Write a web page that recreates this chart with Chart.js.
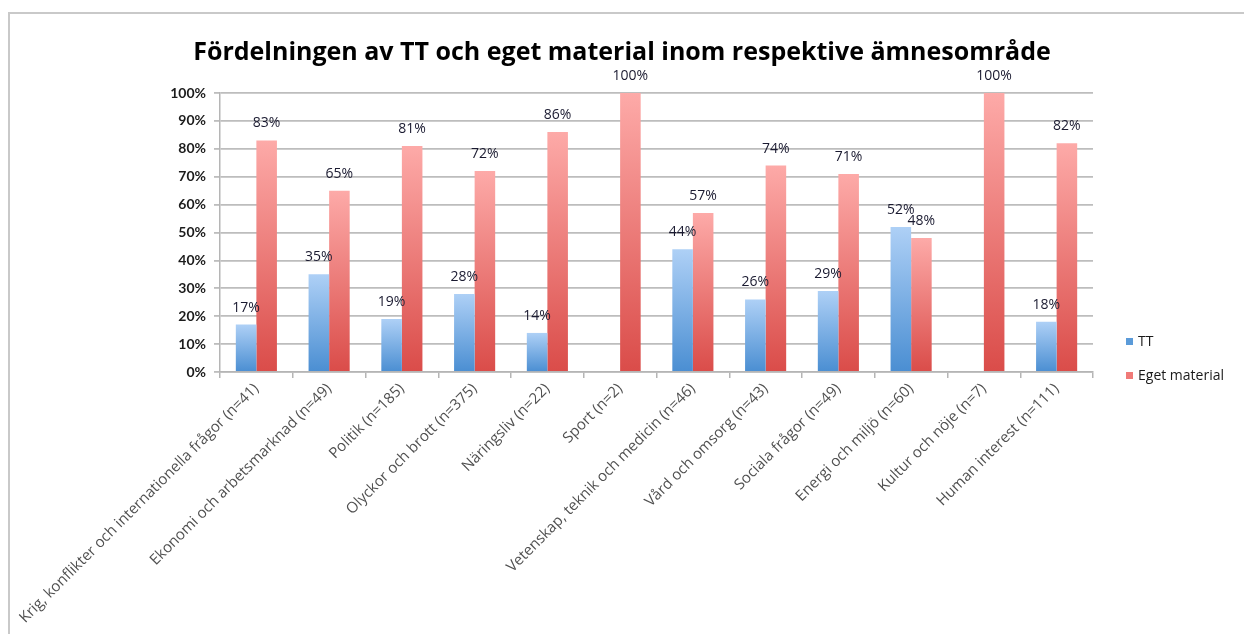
<!DOCTYPE html>
<html>
<head>
<meta charset="utf-8">
<script src="https://cdn.jsdelivr.net/npm/chart.js@4"></script>
<style>
  html, body { margin: 0; padding: 0; background: #fff; }
  #wrap { position: relative; width: 1244px; height: 634px; overflow: hidden; }
  #frame { position: absolute; left: 8px; top: 12px; width: 1300px; height: 700px;
           border-left: 2px solid #c9c9c9; border-top: 2px solid #c9c9c9; }
  canvas { position: absolute; left: 0; top: 0; }
</style>
</head>
<body>
<div id="wrap">
  <div id="frame"></div>
  <canvas id="c" width="1244" height="634"></canvas>
</div>
<script>
const categories = [
  "Krig, konflikter och internationella frågor (n=41)",
  "Ekonomi och arbetsmarknad (n=49)",
  "Politik (n=185)",
  "Olyckor och brott (n=375)",
  "Näringsliv (n=22)",
  "Sport (n=2)",
  "Vetenskap, teknik och medicin (n=46)",
  "Vård och omsorg (n=43)",
  "Sociala frågor (n=49)",
  "Energi och miljö (n=60)",
  "Kultur och nöje (n=7)",
  "Human interest (n=111)"
];
const ttValues = [17, 35, 19, 28, 14, null, 44, 26, 29, 52, null, 18];
const egetValues = [83, 65, 81, 72, 86, 100, 57, 74, 71, 48, 100, 82];
const seriesNames = ["TT", "Eget material"];
const yTicks = [0, 10, 20, 30, 40, 50, 60, 70, 80, 90, 100];
const titleText = "Fördelningen av TT och eget material inom respektive ämnesområde";

const FONT = "'Open Sans', Lato, sans-serif";
const FONT_Y = "Lato, 'Open Sans', sans-serif";

function gradientFill(topColor, bottomColor, solid) {
  return function (ctx) {
    const chart = ctx.chart;
    if (!chart.chartArea || ctx.type !== 'data') return solid;
    const v = ctx.dataset.data[ctx.dataIndex];
    if (v == null) return solid;
    const y = chart.scales.y;
    const top = y.getPixelForValue(v);
    const bottom = y.getPixelForValue(0);
    if (!isFinite(top) || !isFinite(bottom) || top === bottom) return solid;
    const g = chart.ctx.createLinearGradient(0, top, 0, bottom);
    g.addColorStop(0, topColor);
    g.addColorStop(1, bottomColor);
    return g;
  };
}

const dataLabelPlugin = {
  id: 'dataLabels',
  afterDatasetsDraw(chart) {
    const ctx = chart.ctx;
    ctx.save();
    ctx.font = "14px " + FONT;
    ctx.fillStyle = "#1a1a30";
    ctx.textAlign = "center";
    ctx.textBaseline = "middle";
    chart.data.datasets.forEach((ds, di) => {
      const meta = chart.getDatasetMeta(di);
      meta.data.forEach((el, i) => {
        const v = ds.data[i];
        if (v == null) return;
        ctx.fillText(v + "%", el.x, el.y - 17);
      });
    });
    ctx.restore();
  }
};

const legendPlugin = {
  id: 'sideLegend',
  afterDraw(chart) {
    const ctx = chart.ctx;
    ctx.save();
    ctx.font = "14px " + FONT;
    ctx.textAlign = "left";
    ctx.textBaseline = "middle";
    const colors = ["#5b9bd9", "#f07a78"];
    const ys = [341, 375];
    chart.data.datasets.forEach((ds, i) => {
      ctx.fillStyle = colors[i];
      ctx.fillRect(1126, ys[i] - 3, 7, 7);
      ctx.fillStyle = "#1a1a1a";
      ctx.fillText(ds.label, 1138, ys[i] + 1);
    });
    ctx.restore();
  }
};

new Chart(document.getElementById('c'), {
  type: 'bar',
  data: {
    labels: categories,
    datasets: [
      {
        label: seriesNames[0],
        data: ttValues,
        backgroundColor: gradientFill("#aed0f6", "#4a8ed2", "#7fb0e6"),
        borderWidth: 0,
        categoryPercentage: 0.565,
        barPercentage: 1.0
      },
      {
        label: seriesNames[1],
        data: egetValues,
        backgroundColor: gradientFill("#fdaaa8", "#da4c49", "#ee7b78"),
        borderWidth: 0,
        categoryPercentage: 0.565,
        barPercentage: 1.0
      }
    ]
  },
  options: {
    responsive: false,
    animation: false,
    devicePixelRatio: 1,
    layout: { padding: 0 },
    plugins: {
      legend: { display: false },
      tooltip: { enabled: false },
      title: {
        display: true,
        text: titleText,
        color: "#000",
        font: { family: FONT, size: 25, weight: 'bold' },
        padding: { top: 38, bottom: 25 }
      }
    },
    scales: {
      x: {
        grid: {
          display: true,
          drawOnChartArea: false,
          drawTicks: true,
          tickLength: 6,
          color: "#b5b5b5",
          lineWidth: 1.5,
          offset: true
        },
        border: { display: true, color: "#b5b5b5", width: 1.5 },
        ticks: {
          minRotation: 45,
          maxRotation: 45,
          autoSkip: false,
          color: "#505050",
          font: { family: FONT, size: 15 },
          padding: 2
        },
        afterFit(scale) { scale.height = 262; }
      },
      y: {
        min: 0,
        max: 100,
        afterBuildTicks(scale) { scale.ticks = yTicks.map(v => ({ value: v })); },
        grid: {
          color: "#bdbdbd",
          lineWidth: 1.8,
          tickLength: 6,
          drawTicks: true
        },
        border: { display: true, color: "#b5b5b5", width: 1.5 },
        ticks: {
          callback: v => v + "%",
          color: "#1c1c1c",
          font: { family: FONT_Y, size: 14, weight: 'bold' },
          padding: 8
        },
        afterFit(scale) { scale.width = 220; }
      },
      legendSpace: {
        type: 'linear',
        position: 'right',
        display: true,
        grid: { display: false, drawTicks: false },
        border: { display: false },
        ticks: { display: false },
        afterFit(scale) { scale.width = 151; }
      }
    }
  },
  plugins: [dataLabelPlugin, legendPlugin]
});
</script>
</body>
</html>
